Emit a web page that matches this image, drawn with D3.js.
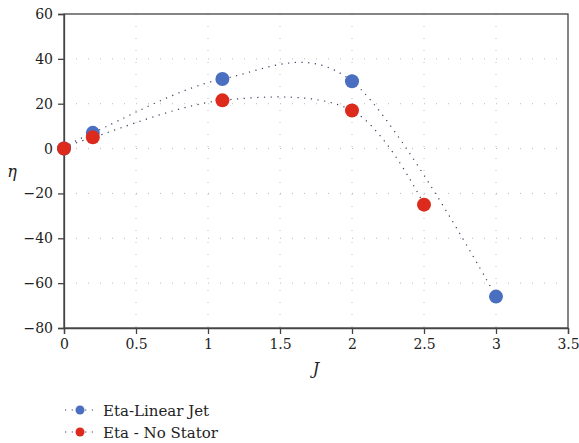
<!DOCTYPE html>
<html>
<head>
<meta charset="utf-8">
<script src="https://cdn.jsdelivr.net/npm/d3@7"></script>
<style>
  body { margin: 0; background: #fff; }
  svg text { fill: #222; }
</style>
</head>
<body>
<svg id="chart" width="579" height="443"></svg>
<script>
// values
var jetJ = [0, 0.2, 1.1, 2, 3];
var jetEta = [0, 7, 31, 30, -66];
var statorJ = [0, 0.2, 1.1, 2, 2.5];
var statorEta = [0, 5, 21.5, 17, -25];
var xTicks = [0, 0.5, 1, 1.5, 2, 2.5, 3, 3.5];
var yTicks = [-80, -60, -40, -20, 0, 20, 40, 60];
var seriesNames = ["Eta-Linear Jet", "Eta - No Stator"];
var seriesColors = ["#4a6fc0", "#dc2a1c"];

var svg = d3.select("#chart");
var plotL = 64, plotR = 568, plotT = 14, plotB = 328;
var serif = "DejaVu Serif";

var x = d3.scaleLinear().domain([0, 3.5]).range([plotL, plotR]);
var y = d3.scaleLinear().domain([-80, 60]).range([plotB, plotT]);

// dotted grid
svg.append("g").selectAll("line")
    .data(yTicks.filter(d => d > -80 && d < 60))
    .enter().append("line")
    .attr("x1", plotL).attr("x2", plotR)
    .attr("y1", d => y(d)).attr("y2", d => y(d))
    .attr("stroke", "#bbb").attr("stroke-width", 1)
    .attr("stroke-dasharray", "1,11");
svg.append("g").selectAll("line")
    .data(xTicks.filter(d => d > 0 && d < 3.5))
    .enter().append("line")
    .attr("x1", d => x(d)).attr("x2", d => x(d))
    .attr("y1", plotT).attr("y2", plotB)
    .attr("stroke", "#bbb").attr("stroke-width", 1)
    .attr("stroke-dasharray", "1,11");

// frame
svg.append("rect")
    .attr("x", plotL).attr("y", plotT)
    .attr("width", plotR - plotL).attr("height", plotB - plotT)
    .attr("fill", "none").attr("stroke", "#444").attr("stroke-width", 1.3);

var xAxis = d3.axisBottom(x).tickValues(xTicks).tickSize(6).tickPadding(5)
    .tickFormat(d3.format("~g"));
var yAxis = d3.axisLeft(y).tickValues(yTicks).tickSize(6).tickPadding(5)
    .tickFormat(d => d < 0 ? "\u2212" + Math.abs(d) : d);

var gx = svg.append("g").attr("transform", "translate(0," + plotB + ")").call(xAxis);
var gy = svg.append("g").attr("transform", "translate(" + plotL + ",0)").call(yAxis);
[gx, gy].forEach(g => {
    g.attr("font-family", serif).attr("font-size", 14);
    g.select(".domain").attr("stroke", "#444").attr("stroke-width", 1.3);
    g.selectAll(".tick line").attr("stroke", "#444").attr("stroke-width", 1.3);
    g.selectAll(".tick text").attr("fill", "#222");
});

// axis titles
svg.append("text").attr("x", 316).attr("y", 374)
    .attr("text-anchor", "middle").attr("font-family", serif)
    .attr("font-style", "italic").attr("font-size", 16).text("J");
svg.append("text").attr("x", 12).attr("y", 177)
    .attr("text-anchor", "middle").attr("font-family", serif)
    .attr("font-style", "italic").attr("font-size", 16).text("\u03b7");

var series = [
    {name: seriesNames[0], color: seriesColors[0], xs: jetJ, ys: jetEta},
    {name: seriesNames[1], color: seriesColors[1], xs: statorJ, ys: statorEta}
];

var line = d3.line()
    .x(d => x(d[0])).y(d => y(d[1]))
    .curve(d3.curveCardinal.tension(0));

series.forEach(s => {
    var pts = s.xs.map((v, i) => [v, s.ys[i]]);
    svg.append("path").datum(pts)
        .attr("d", line)
        .attr("fill", "none").attr("stroke", "#3a3c5e")
        .attr("stroke-width", 1.2).attr("stroke-dasharray", "1.2,5.5");
});
series.forEach(s => {
    var pts = s.xs.map((v, i) => [v, s.ys[i]]);
    svg.append("g").selectAll("circle").data(pts)
        .enter().append("circle")
        .attr("cx", d => x(d[0])).attr("cy", d => y(d[1]))
        .attr("r", 7).attr("fill", s.color);
});

// legend
var legend = svg.append("g").selectAll("g").data(series)
    .enter().append("g")
    .attr("transform", (d, i) => "translate(0," + (410 + i * 22) + ")");
legend.append("line")
    .attr("x1", 65).attr("x2", 94).attr("y1", 0).attr("y2", 0)
    .attr("stroke", "#3a3c5e").attr("stroke-width", 1.2)
    .attr("stroke-dasharray", "1.2,5.5");
legend.append("circle").attr("cx", 80).attr("cy", 0).attr("r", 4.5)
    .attr("fill", d => d.color);
legend.append("text").attr("x", 103).attr("y", 6)
    .attr("font-family", serif).attr("font-size", 15)
    .text(d => d.name);
</script>
</body>
</html>
